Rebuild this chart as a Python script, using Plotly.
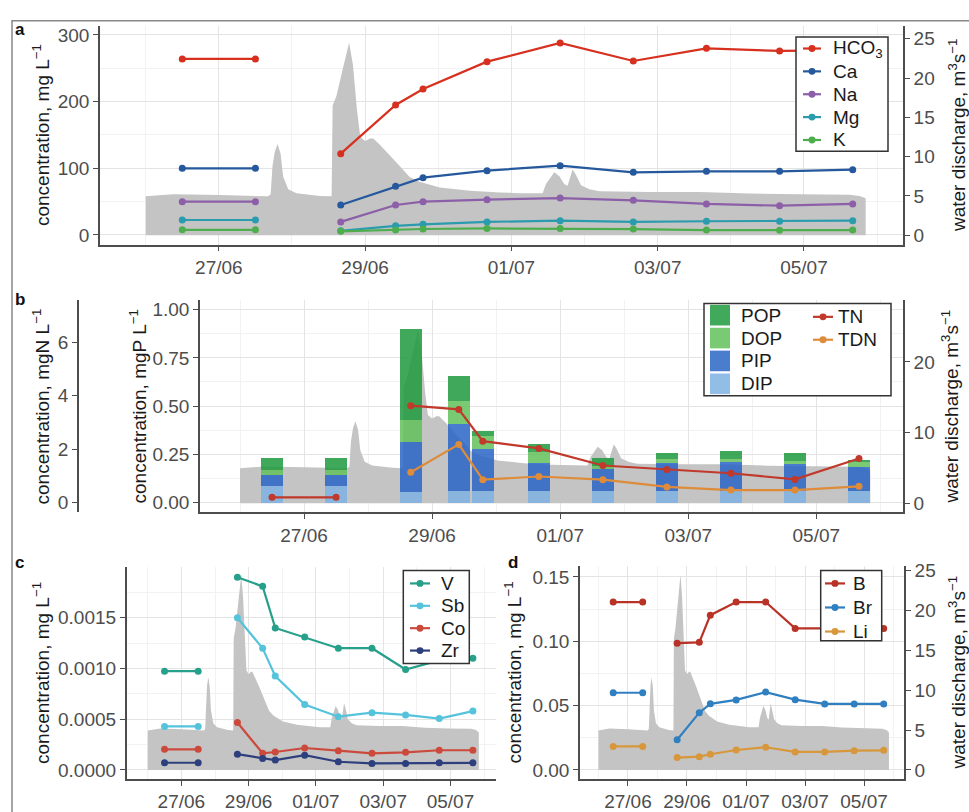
import plotly.graph_objects as go

# ---------------------------------------------------------------- data
FIRST_RUN = 2  # samples of the first (pre-flood) campaign, drawn as a separate segment

sample_times = [
    "2021-06-26 12:00", "2021-06-27 12:00", "2021-06-28 16:00", "2021-06-29 10:00",
    "2021-06-29 19:00", "2021-06-30 16:00", "2021-07-01 16:00", "2021-07-02 16:00",
    "2021-07-03 16:00", "2021-07-04 16:00", "2021-07-05 16:00",
]

# water discharge, m3 s-1
discharge_time = [
    "2021-06-26 00:00", "2021-06-26 09:00", "2021-06-27 00:20", "2021-06-27 16:10",
    "2021-06-27 17:00", "2021-06-27 17:36", "2021-06-27 18:20", "2021-06-27 19:15",
    "2021-06-27 20:15", "2021-06-27 21:05", "2021-06-27 22:45", "2021-06-28 01:30",
    "2021-06-28 09:10", "2021-06-28 13:00", "2021-06-28 13:20", "2021-06-28 14:35",
    "2021-06-28 16:45", "2021-06-28 18:45", "2021-06-28 20:00", "2021-06-28 21:20",
    "2021-06-28 22:25", "2021-06-29 00:00", "2021-06-29 01:35", "2021-06-29 02:40",
    "2021-06-29 04:50", "2021-06-29 08:05", "2021-06-29 11:20", "2021-06-29 14:35",
    "2021-06-29 17:50", "2021-06-30 00:30", "2021-06-30 10:25", "2021-06-30 20:15",
    "2021-07-01 02:50", "2021-07-01 10:15", "2021-07-01 11:20", "2021-07-01 14:05",
    "2021-07-01 15:45", "2021-07-01 17:20", "2021-07-01 18:25", "2021-07-01 20:05",
    "2021-07-01 21:10", "2021-07-01 22:50", "2021-07-02 01:35", "2021-07-02 04:50",
    "2021-07-02 21:15", "2021-07-03 13:40", "2021-07-04 06:05", "2021-07-04 22:30",
    "2021-07-05 14:55", "2021-07-05 18:15", "2021-07-05 20:15",
]
discharge_q = [
    4.95, 5.2, 5.1, 4.95,
    5.2, 8.8, 10.6, 11.6,
    10.4, 7.5, 5.85, 5.35,
    5.0, 4.95, 16.5, 17.7,
    21.3, 24.5, 21.7, 15.9,
    12.5, 12.0, 12.3, 12.3,
    11.5, 10.2, 8.8, 7.4,
    6.8, 6.06, 5.65, 5.44,
    5.35, 5.35, 6.5, 8.0,
    7.5, 6.5, 6.3, 8.35,
    7.7, 6.35, 5.85, 5.6,
    5.5, 5.5, 5.3, 5.2,
    5.15, 5.0, 4.7,
]

# (a) major ions, mg L-1
hco3 = [264, 264, 122, 195, 219, 260, 288, 261, 280, 276, 277]
ca = [100, 100, 45, 73, 86, 96.5, 104, 94, 95.5, 95.5, 98]
na = [50, 50, 19.6, 45, 50, 53, 55.3, 52, 46.5, 44, 46.5]
mg = [22.5, 22.5, 6.3, 13.7, 16, 19.6, 21.5, 19.6, 20.6, 20.6, 21.5]
k = [7.8, 7.8, 5.5, 7.6, 9.0, 9.8, 9.7, 8.8, 7.4, 7.0, 7.4]

# (b) phosphorus fractions, mgP L-1 and nitrogen, mgN L-1
dip = [0.086, 0.086, 0.056, 0.059, 0.059, 0.059, 0.059, 0.060, 0.060, 0.060, 0.060]
pip = [0.058, 0.058, 0.258, 0.348, 0.217, 0.146, 0.115, 0.145, 0.148, 0.140, 0.127]
dop = [0.027, 0.027, 0.115, 0.120, 0.069, 0.059, 0.017, 0.020, 0.018, 0.017, 0.025]
pop_ = [0.058, 0.058, 0.471, 0.127, 0.025, 0.042, 0.042, 0.031, 0.039, 0.042, 0.010]
tn = [0.2, 0.2, 3.63, 3.49, 2.30, 2.03, 1.39, 1.24, 1.10, 0.87, 1.65]
tdn = [None, None, 1.14, 2.18, 0.86, 0.98, 0.86, 0.59, 0.47, 0.47, 0.61]

# (c) trace elements, mg L-1
v = [0.000974, 0.000974, 0.00190, 0.00181, 0.00140, 0.00131, 0.00120, 0.00120, 0.00099, 0.00108, 0.00110]
sb = [0.000429, 0.000429, 0.00150, 0.00120, 0.000925, 0.000645, 0.000525, 0.000564, 0.000542, 0.000506, 0.00058]
co = [0.000203, 0.000203, 0.000467, 0.000164, 0.000177, 0.000216, 0.00019, 0.000164, 0.000174, 0.000194, 0.000194]
zr = [0.0000706, 0.0000706, 0.000155, 0.000113, 0.0000968, 0.000145, 0.0000806, 0.000064, 0.000064, 0.00007, 0.00007]

# (d) B, Br, Li, mg L-1
b_ = [0.1305, 0.1305, 0.0985, 0.0992, 0.1203, 0.1305, 0.1305, 0.110, 0.110, 0.110, 0.110]
br = [0.060, 0.060, 0.0234, 0.0445, 0.0514, 0.0544, 0.0605, 0.0546, 0.0513, 0.0513, 0.0513]
li = [0.0183, 0.0183, 0.0096, 0.0103, 0.0122, 0.0155, 0.0176, 0.0140, 0.0140, 0.0150, 0.0152]

major_days = ["2021-06-27", "2021-06-29", "2021-07-01", "2021-07-03", "2021-07-05"]
minor_days = ["2021-06-26", "2021-06-28", "2021-06-30", "2021-07-02", "2021-07-04", "2021-07-06"]
x_range = ["2021-06-25 09:00", "2021-07-06 08:30"]

# ---------------------------------------------------------------- style
W, H = 969, 812
FONT = "Liberation Sans, Arial, sans-serif"
FS = 19
AXC = "#4d4d4d"
TXT = "#1a1a1a"
GRID = "#e4e4e4"
GRID_MINOR = "#f2f2f2"
AREA = "#c4c4c4"
BAR_OPACITY = 0.85
TICKFONT = dict(family=FONT, size=FS, color=AXC)

COLORS = {
    "HCO3": "#d7301f", "Ca": "#25589c", "Na": "#8c5fa8", "Mg": "#2b9bae", "K": "#4eae4e",
    "POP": "#1f9a3e", "DOP": "#63c05b", "PIP": "#2a66c6", "DIP": "#7fb2e3",
    "TN": "#c0392b", "TDN": "#de8b3a",
    "V": "#27a08b", "Sb": "#55c3dc", "Co": "#cc4a3c", "Zr": "#2d3f7c",
    "B": "#b83226", "Br": "#2f7fc1", "Li": "#d8973a",
}


def px(x):
    return x / W


def py(y):
    return 1 - y / H


def split(seq):
    return list(seq[:FIRST_RUN]) + [None] + list(seq[FIRST_RUN:])


fig = go.Figure()


def add_area(xa, ya):
    fig.add_trace(go.Scatter(
        x=discharge_time, y=discharge_q, xaxis=xa, yaxis=ya, mode="lines",
        line=dict(width=0, color=AREA), fill="tozeroy", fillcolor=AREA,
        name="discharge", hoverinfo="skip"))


def add_series(name, values, xa, ya):
    col = COLORS[name]
    fig.add_trace(go.Scatter(
        x=split(sample_times), y=split(values), name=name, mode="lines+markers",
        line=dict(color=col, width=2.2), marker=dict(color=col, size=7),
        xaxis=xa, yaxis=ya, connectgaps=False))


# panel a
add_area("x", "y")
for name, vals in [("HCO3", hco3), ("Ca", ca), ("Na", na), ("Mg", mg), ("K", k)]:
    add_series(name, vals, "x", "y2")

# panel b
add_area("x2", "y3")
for name, vals in [("DIP", dip), ("PIP", pip), ("DOP", dop), ("POP", pop_)]:
    fig.add_trace(go.Bar(
        x=sample_times, y=vals, name=name, xaxis="x2", yaxis="y4",
        marker=dict(color=COLORS[name], line=dict(width=0)), opacity=BAR_OPACITY,
        width=0.34 * 86400000))
add_series("TN", tn, "x2", "y5")
add_series("TDN", tdn, "x2", "y5")

# panel c
add_area("x3", "y6")
for name, vals in [("V", v), ("Sb", sb), ("Co", co), ("Zr", zr)]:
    add_series(name, vals, "x3", "y7")

# panel d
add_area("x4", "y8")
for name, vals in [("B", b_), ("Br", br), ("Li", li)]:
    add_series(name, vals, "x4", "y9")


def xaxis(left, right, anchor):
    return dict(domain=[px(left), px(right)], anchor=anchor, type="date", range=x_range,
                tickvals=major_days, tickformat="%d/%m", ticks="outside", ticklen=5,
                tickwidth=1.3, tickcolor=AXC, showline=True, linecolor=AXC, linewidth=1.6,
                showgrid=True, gridcolor=GRID, gridwidth=1, zeroline=False,
                minor=dict(tickvals=minor_days, showgrid=True, gridcolor=GRID_MINOR, gridwidth=1),
                tickfont=TICKFONT)


def yaxis(rng, ticks, fmt=None, side="left", grid=True, minor=None, **kw):
    d = dict(range=rng, tickvals=ticks, side=side, ticks="outside", ticklen=5, tickwidth=1.3,
             tickcolor=AXC, showline=True, linecolor=AXC, linewidth=1.6, zeroline=False,
             showgrid=grid, gridcolor=GRID, gridwidth=1, tickfont=TICKFONT)
    if fmt:
        d["tickformat"] = fmt
    if minor:
        d["minor"] = dict(tickvals=minor, showgrid=True, gridcolor=GRID_MINOR, gridwidth=1)
    d.update(kw)
    return d


fig.update_layout(
    width=W, height=H, margin=dict(l=0, r=0, t=0, b=0), showlegend=False,
    paper_bgcolor="white", plot_bgcolor="white", barmode="stack",
    font=dict(family=FONT, size=FS, color=TXT),
    # panel a
    xaxis=xaxis(100, 903, "y"),
    yaxis=yaxis([-1.19, 26.67], [0, 5, 10, 15, 20, 25], side="right", grid=False,
                domain=[py(243), py(20)], anchor="x"),
    yaxis2=yaxis([-14.3, 314.0], [0, 100, 200, 300], overlaying="y", anchor="x",
                 minor=[50, 150, 250]),
    # panel b
    xaxis2=xaxis(200, 903, "y3"),
    yaxis3=yaxis([-1.321, 28.72], [0, 10, 20], side="right", grid=False,
                 domain=[py(516), py(300)], anchor="x2"),
    yaxis4=yaxis([-0.0508, 1.0473], [0, 0.25, 0.5, 0.75, 1.0], fmt=".2f",
                 overlaying="y3", anchor="x2", minor=[0.125, 0.375, 0.625, 0.875]),
    yaxis5=yaxis([-0.367, 7.568], [0, 2, 4, 6], grid=False, overlaying="y3",
                 anchor="free", position=px(78)),
    # panel c
    xaxis3=xaxis(126.7, 496, "y6"),
    yaxis6=dict(range=[-1.107, 25.41], domain=[py(787.3), py(571.7)], anchor="x3",
                visible=False, showgrid=False, zeroline=False),
    yaxis7=yaxis([-0.0000871, 0.0019994], [0, 0.0005, 0.001, 0.0015], fmt=".4f",
                 overlaying="y6", anchor="x3", minor=[0.00025, 0.00075, 0.00125, 0.00175]),
    # panel d
    xaxis4=xaxis(580, 904, "y8"),
    yaxis8=yaxis([-1.107, 25.53], [0, 5, 10, 15, 20, 25], side="right", grid=False,
                 domain=[py(787.3), py(570.7)], anchor="x4"),
    yaxis9=yaxis([-0.00687, 0.1584], [0, 0.05, 0.1, 0.15], fmt=".2f",
                 overlaying="y8", anchor="x4", minor=[0.025, 0.075, 0.125]),
)


def shape(kind, x0, y0, x1, y1, **kw):
    fig.add_shape(type=kind, xref="paper", yref="paper", x0=px(x0), x1=px(x1),
                  y0=py(y1), y1=py(y0), layer="above", **kw)


def label(text, x, y, **kw):
    fig.add_annotation(text=text, x=px(x), y=py(y), xref="paper", yref="paper",
                       showarrow=False, **kw)


# legends: framed white boxes with line+dot keys or filled swatches
LEG_FONT = dict(family=FONT, size=FS, color=TXT)


def line_key(names, texts, rows, x0, x1, tx):
    for name, text, y in zip(names, texts, rows):
        col = COLORS[name]
        shape("line", x0, y, x1, y, line=dict(color=col, width=2.2))
        cx = (x0 + x1) / 2
        shape("circle", cx - 3.5, y - 3.5, cx + 3.5, y + 3.5,
              line=dict(color=col, width=0), fillcolor=col)
        label(text, tx, y, xanchor="left", yanchor="middle", font=LEG_FONT)


def frame(x0, y0, x1, y1):
    shape("rect", x0, y0, x1, y1, line=dict(color="#333333", width=1.5), fillcolor="white")


frame(796, 31.7, 888, 148)
line_key(["HCO3", "Ca", "Na", "Mg", "K"], ["HCO<sub>3</sub>", "Ca", "Na", "Mg", "K"],
         [43.3, 66.6, 89.9, 113.2, 136.5], 803, 821, 831)

frame(704, 303, 891, 397)
for name, y in zip(["POP", "DOP", "PIP", "DIP"], [315, 338.3, 361.6, 384.9]):
    shape("rect", 710, y - 10.5, 730, y + 10.5, line=dict(width=0), fillcolor=COLORS[name],
          opacity=BAR_OPACITY)
    label(name, 739, y, xanchor="left", yanchor="middle", font=LEG_FONT)
line_key(["TN", "TDN"], ["TN", "TDN"], [316.7, 340], 813, 833, 836)

frame(403.3, 575, 469.3, 670)
line_key(["V", "Sb", "Co", "Zr"], ["V", "Sb", "Co", "Zr"],
         [588.3, 611.1, 633.9, 656.7], 410, 430, 439)

frame(820.7, 575, 881.7, 646.7)
line_key(["B", "Br", "Li"], ["B", "Br", "Li"], [588.3, 612.8, 637.3], 825, 845, 851)

# outer figure frame
fig.add_shape(type="rect", xref="paper", yref="paper", x0=px(12), x1=px(990), y0=py(830),
              y1=py(15), line=dict(color="#888888", width=1.5), fillcolor="rgba(0,0,0,0)",
              layer="above")

# axis titles
CONC = "concentration, mg L<sup>\u22121</sup>"
QT = "water discharge, m<sup>3</sup>s<sup>\u22121</sup>"
titles = [
    (CONC, 41, 131.5), (QT, 957, 131.5),
    ("concentration, mgN L<sup>\u22121</sup>", 41, 408),
    ("concentration, mgP L<sup>\u22121</sup>", 138, 408), (QT, 950, 408),
    (CONC, 41, 679.5), (CONC, 513, 679), (QT, 957, 679),
]
for text, x, y in titles:
    label(text, x, y, textangle=-90, xanchor="center", yanchor="middle",
          font=dict(family=FONT, size=FS, color=TXT))

# panel letters
for letter, x, y in [("a", 13, 12), ("b", 13, 287), ("c", 13, 555), ("d", 506, 555)]:
    label("<b>%s</b>" % letter, x, y, xanchor="left", yanchor="top",
          font=dict(family=FONT, size=17, color="#111111"))

fig.write_html("out.html")
